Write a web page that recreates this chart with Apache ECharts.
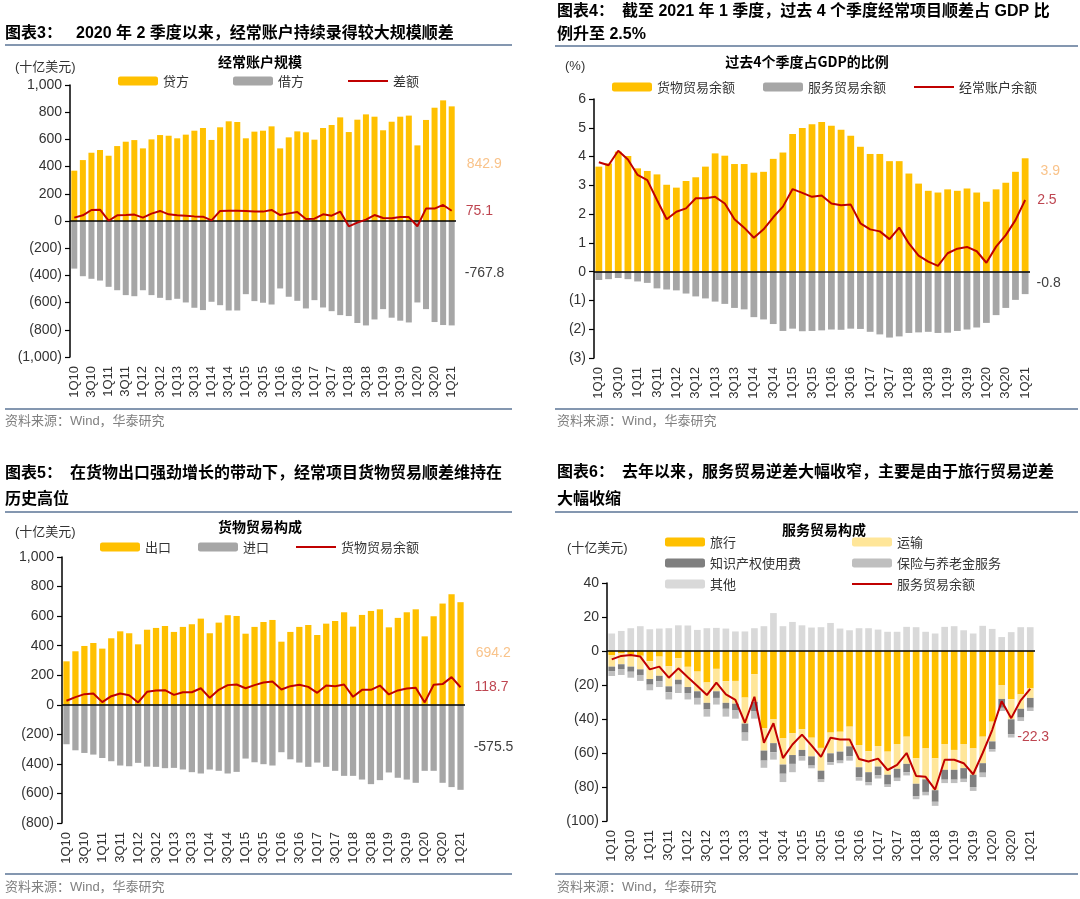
<!DOCTYPE html>
<html><head><meta charset="utf-8">
<script src="https://cdn.jsdelivr.net/npm/echarts@6/dist/echarts.min.js"></script>
<style>html,body{margin:0;padding:0;background:#fff}#c{width:1080px;height:899px}</style>
</head><body><div id="c"></div>
<script>
// ---------- data ----------
const cats = ['1Q10','2Q10','3Q10','4Q10','1Q11','2Q11','3Q11','4Q11','1Q12','2Q12','3Q12','4Q12','1Q13','2Q13','3Q13','4Q13','1Q14','2Q14','3Q14','4Q14','1Q15','2Q15','3Q15','4Q15','1Q16','2Q16','3Q16','4Q16','1Q17','2Q17','3Q17','4Q17','1Q18','2Q18','3Q18','4Q18','1Q19','2Q19','3Q19','4Q19','1Q20','2Q20','3Q20','4Q20','1Q21'];

// Panel 1: current account (USD bn)
const credit = [370,448,502,522,480,551,583,595,534,600,632,627,608,635,664,684,596,689,733,728,608,657,664,696,534,615,659,652,598,684,706,762,654,745,784,767,667,730,767,775,556,743,833,887,842.9];
const debit = [-350,-406,-425,-438,-484,-509,-545,-553,-509,-545,-565,-582,-572,-599,-638,-655,-594,-619,-658,-658,-538,-589,-601,-614,-496,-557,-587,-643,-582,-636,-663,-692,-699,-750,-768,-724,-648,-711,-733,-746,-599,-648,-743,-765,-767.8];
const caBalance = [25,42,81,83,2,42,44,47,25,54,74,49,42,39,34,32,5,74,76,76,74,69,69,81,44,56,66,15,17,49,39,69,-39,-12,10,44,22,20,29,29,-39,91,91,118,75.1];

// Panel 2: 4Q rolling, % of GDP
const goodsPct = [3.65,3.76,4.17,4.02,3.59,3.50,3.38,3.02,2.92,3.15,3.28,3.65,4.11,4.03,3.74,3.74,3.44,3.47,3.92,4.14,4.78,4.99,5.12,5.20,5.07,4.93,4.72,4.34,4.09,4.09,3.84,3.84,3.41,3.06,2.81,2.75,2.86,2.81,2.89,2.75,2.43,2.86,3.09,3.47,3.94];
const servicesPct = [-0.29,-0.26,-0.22,-0.26,-0.34,-0.39,-0.58,-0.62,-0.65,-0.76,-0.86,-0.93,-1.04,-1.12,-1.26,-1.31,-1.58,-1.66,-1.82,-2.06,-1.98,-2.07,-2.06,-2.04,-2.01,-2.02,-1.98,-1.99,-2.09,-2.18,-2.29,-2.25,-2.13,-2.11,-2.09,-2.13,-2.12,-2.06,-2.01,-1.94,-1.78,-1.51,-1.26,-0.98,-0.78];
const caPct = [3.80,3.70,4.20,3.90,3.36,3.18,2.49,1.82,2.08,2.20,2.55,2.55,2.60,2.37,1.82,1.53,1.18,1.47,1.89,2.26,2.87,2.74,2.60,2.65,2.37,2.31,2.33,1.68,1.47,1.40,1.13,1.53,0.98,0.56,0.35,0.20,0.64,0.80,0.86,0.71,0.31,0.87,1.27,1.79,2.49];

// Panel 3: goods trade (USD bn)
const exportsG = [294,362,398,418,380,450,497,484,409,508,520,533,493,527,545,583,484,556,606,601,481,527,560,574,427,493,527,540,472,549,567,626,529,608,635,646,524,588,626,646,463,599,685,748,694.2];
const importsG = [-267,-308,-326,-337,-360,-382,-411,-416,-393,-418,-420,-429,-427,-438,-456,-465,-438,-447,-465,-454,-364,-389,-402,-411,-321,-369,-391,-420,-391,-420,-447,-481,-481,-506,-537,-510,-458,-494,-506,-528,-447,-447,-528,-557,-575.5];
const goodsBal = [27,52,72,76,18,58,76,65,16,88,97,99,67,85,85,112,47,101,133,137,112,133,151,157,103,126,135,121,81,130,126,137,54,101,101,130,70,97,110,115,16,135,140,187,118.7];

// Panel 4: services trade (USD bn)
const travel = [-2.4,-1.4,-2.0,-2.8,-6.0,-3.3,-9.0,-4.3,-9.3,-12.1,-18.5,-10.5,-17.7,-17.6,-27.4,-13.6,-45.5,-40.2,-51.4,-48.4,-46.0,-51.0,-57.0,-48.0,-47.5,-44.5,-55.3,-59.0,-55.9,-59.2,-54.7,-50.4,-63.1,-57.3,-63.1,-54.7,-58.2,-54.7,-57.3,-50.4,-41.6,-20.0,-28.4,-25.5,-22.0];
const transport = [-6.8,-6.4,-7.2,-8.0,-10.5,-11.3,-11.8,-12.6,-11.9,-11.6,-12.0,-13.2,-12.8,-13.4,-15.3,-16.3,-13.1,-14.0,-15.4,-12.8,-12.2,-11.0,-13.4,-12.2,-11.7,-11.6,-13.1,-12.3,-12.1,-13.6,-14.6,-16.0,-15.0,-18.2,-18.8,-15.2,-11.7,-14.2,-15.5,-15.6,-11.6,-8.2,-11.8,-8.5,-5.6];
const ipFees = [-2.6,-2.8,-3.0,-3.3,-3.3,-3.3,-3.5,-2.9,-3.5,-3.9,-3.9,-3.9,-3.5,-4.0,-5.3,-5.4,-5.9,-5.4,-5.4,-5.2,-3.8,-5.4,-5.2,-5.2,-5.3,-5.9,-5.8,-5.8,-5.2,-5.8,-5.3,-4.9,-7.3,-7.4,-6.8,-5.8,-5.8,-6.3,-7.2,-5.6,-4.5,-5.2,-8.7,-5.2,-5.8];
const insurance = [-2.9,-3.5,-3.5,-3.5,-3.3,-3.3,-4.2,-4.9,-3.8,-3.9,-4.2,-3.9,-4.6,-4.8,-4.8,-4.5,-4.2,-4.3,-4.9,-4.9,-2.5,-1.6,-1.5,-1.6,-1.5,-2.5,-2.1,-1.9,-1.8,-1.4,-1.9,-1.9,-1.8,-2.0,-2.4,-2.0,-2.0,-1.9,-2.3,-2.6,-1.5,-1.9,-2.0,-2.0,-1.9];
const others = [10.3,11.8,13.4,14.6,12.8,13.2,13.4,15.1,15.0,12.4,13.4,13.6,13.2,11.5,11.5,13.4,14.6,22.3,14.6,17.1,15.1,13.8,14.0,16.5,13.2,12.2,13.4,13.4,12.6,11.3,11.3,14.2,14.0,11.3,10.3,14.2,14.6,12.2,10.3,14.8,13.0,8.2,11.1,14.0,14.0];
const svcBal = [-4.9,-2.9,-2.4,-3.3,-10.8,-9.2,-15.7,-10.2,-15.5,-20.6,-25.9,-18.6,-25.5,-28.8,-42.2,-26.9,-54.0,-42.5,-63.0,-55.0,-49.2,-55.5,-62.3,-51.0,-52.0,-52.0,-63.5,-65.0,-63.3,-70.0,-67.0,-60.0,-73.5,-74.0,-81.5,-64.0,-64.0,-66.0,-72.5,-60.0,-46.5,-29.5,-39.5,-29.0,-22.3];

// ---------- styling ----------
const GOLD = '#FFC000', GRAY = '#A6A6A6', RED = '#C00000';
const LBL_GOLD = '#F9C38A', LBL_RED = '#BE4550', LBL_DARK = '#404040';
const NUM_FONT = 'Liberation Sans';
const CJK = "'Noto Sans CJK SC'";
const RULE = '#8497B0';
const LINE_ICON = 'path://M0,0L40,0L40,0Z M0,3.6L40,3.6L40,5.6L0,5.6Z M0,9L40,9L40,9Z';

function fmtNum(v) {
  const a = Math.abs(v);
  const s = String(Math.round(a * 100) / 100).replace(/\B(?=(\d{3})+(?!\d))/g, ',');
  return v < 0 ? '(' + s + ')' : s;
}
const fmt1 = p => Number(Array.isArray(p.value) ? p.value[1] : p.value).toFixed(1);
function endLabel(arr, opt) {
  return arr.map((v, i) => i === arr.length - 1 ? {
    value: v,
    label: Object.assign({ show: true, fontSize: 14, fontFamily: NUM_FONT, formatter: fmt1 }, opt)
  } : v);
}
const zeroLine = {
  silent: true, symbol: ['none', 'none'], label: { show: false },
  lineStyle: { color: '#000', width: 1.5, type: 'solid' },
  data: [{ yAxis: 0 }]
};
function barS(name, data, idx, color, extra) {
  return Object.assign({ type: 'bar', name, data, xAxisIndex: idx, yAxisIndex: idx,
    itemStyle: { color }, barWidth: '70%', barGap: '-100%' }, extra || {});
}
function lineS(name, data, idx, lbl) {
  return { type: 'line', name, data, xAxisIndex: idx, yAxisIndex: idx, symbol: 'none',
    lineStyle: { color: RED, width: 2 }, itemStyle: { color: RED }, z: 5,
    endLabel: Object.assign({ show: true, fontSize: 14, fontFamily: NUM_FONT, color: LBL_RED,
      formatter: fmt1 }, lbl) };
}
function T(text, x, y, font, fill, align) {
  return { type: 'text', silent: true, style: { text, x, y, font, fill: fill || '#000',
    align: align || 'left', verticalAlign: 'middle' } };
}
function L(x1, y1, x2, y2) {
  return { type: 'line', silent: true, shape: { x1, y1, x2, y2 }, style: { stroke: RULE, lineWidth: 2 } };
}
const HFONT = "bold 16px 'Liberation Sans','Noto Sans CJK SC'";
const CTFONT = "bold 14px 'Noto Sans CJK SC'";
const UFONT = "13px 'Liberation Sans','Noto Sans CJK SC'";
const SFONT = "13px 'Liberation Sans','Noto Sans CJK SC'";
const SRC = '资料来源：Wind，华泰研究';

const grids = [
  { left: 70, top: 85, width: 386, height: 272 },
  { left: 594, top: 99, width: 436, height: 259 },
  { left: 62, top: 557, width: 403, height: 266 },
  { left: 607, top: 583, width: 428, height: 238 }
];
const yRanges = [[-1000, 1000, 200], [-3, 6, 1], [-800, 1000, 200], [-100, 40, 20]];

const legendText = { fontSize: 13, color: '#333', fontFamily: CJK, lineHeight: 14 };
function legend(data, left, top, gap, orient) {
  return { data, left, top, orient: orient || 'horizontal', itemGap: gap, itemWidth: 40, itemHeight: 9,
    padding: 0, textStyle: legendText, formatter: n => n.trim(), selectedMode: false };
}
const li = name => ({ name, icon: LINE_ICON });

const option = {
  animation: false,
  backgroundColor: '#fff',
  grid: grids,
  xAxis: grids.map((g, i) => ({
    type: 'category', gridIndex: i, data: cats,
    axisLine: { show: false }, axisTick: { show: false },
    axisLabel: { interval: 1, rotate: 90, fontSize: 13, color: '#333', fontFamily: NUM_FONT, margin: 9 }
  })),
  yAxis: yRanges.map((r, i) => ({
    type: 'value', gridIndex: i, min: r[0], max: r[1], interval: r[2],
    axisLine: { show: true, lineStyle: { color: '#000', width: 1.5 } },
    axisTick: { show: true, length: 5, lineStyle: { color: '#000', width: 1.2 } },
    splitLine: { show: false },
    axisLabel: { fontSize: 14, color: '#333', fontFamily: NUM_FONT, margin: 8, formatter: fmtNum }
  })),
  legend: [
    legend(['贷方', '借方', li('差额')], 118, 74, 44),
    legend(['货物贸易余额', '服务贸易余额', li('经常账户余额')], 612, 80, 28),
    legend(['出口', '进口', li('货物贸易余额 ')], 100, 540, 27),
    legend(['旅行', '知识产权使用费', '其他'], 665, 535, 7, 'vertical'),
    legend(['运输', '保险与养老金服务', li('服务贸易余额 ')], 852, 535, 7, 'vertical')
  ],
  series: [
    barS('贷方', endLabel(credit, { position: 'right', distance: 12, color: LBL_GOLD }), 0, GOLD, { markLine: zeroLine }),
    barS('借方', endLabel(debit, { position: 'right', distance: 10, color: LBL_DARK }), 0, GRAY),
    lineS('差额', caBalance, 0, { distance: 14 }),

    barS('货物贸易余额', endLabel(goodsPct, { position: 'right', distance: 12, offset: [0, -44], color: LBL_GOLD }), 1, GOLD, { markLine: zeroLine }),
    barS('服务贸易余额', endLabel(servicesPct, { position: 'right', distance: 8, color: LBL_DARK }), 1, GRAY),
    lineS('经常账户余额', caPct, 1, { distance: 12 }),

    barS('出口', endLabel(exportsG, { position: 'right', distance: 12, color: LBL_GOLD }), 2, GOLD, { markLine: zeroLine }),
    barS('进口', endLabel(importsG, { position: 'right', distance: 10, color: LBL_DARK }), 2, GRAY),
    lineS('货物贸易余额 ', goodsBal, 2, { distance: 14 }),

    barS('旅行', travel, 3, GOLD, { stack: 's', markLine: zeroLine }),
    barS('运输', transport, 3, '#FFE699', { stack: 's' }),
    barS('知识产权使用费', ipFees, 3, '#7F7F7F', { stack: 's' }),
    barS('保险与养老金服务', insurance, 3, '#BFBFBF', { stack: 's' }),
    barS('其他', others, 3, '#D9D9D9', { stack: 's' }),
    lineS('服务贸易余额 ', svcBal, 3, { distance: 5, offset: [-18, 48] })
  ],
  graphic: [
    // headers
    T('图表3：', 5, 34, HFONT), T('2020 年 2 季度以来，经常账户持续录得较大规模顺差', 76, 34, HFONT),
    T('图表4：', 557, 12, HFONT), T('截至 2021 年 1 季度，过去 4 个季度经常项目顺差占 GDP 比', 622, 12, HFONT),
    T('例升至 2.5%', 557, 35, HFONT),
    T('图表5：', 5, 474, HFONT), T('在货物出口强劲增长的带动下，经常项目货物贸易顺差维持在', 70, 474, HFONT),
    T('历史高位', 5, 500, HFONT),
    T('图表6：', 557, 473, HFONT), T('去年以来，服务贸易逆差大幅收窄，主要是由于旅行贸易逆差', 622, 473, HFONT),
    T('大幅收缩', 557, 500, HFONT),
    L(5, 45, 512, 45), L(555, 46, 1078, 46), L(5, 512, 512, 512), L(555, 512, 1078, 512),
    L(5, 409, 512, 409), L(555, 409, 1078, 409), L(5, 874, 512, 874), L(555, 874, 1078, 874),
    // chart titles
    T('经常账户规模', 260, 62, CTFONT, '#000', 'center'),
    T('过去4个季度占GDP的比例', 807, 62, CTFONT, '#000', 'center'),
    T('货物贸易构成', 260, 527, CTFONT, '#000', 'center'),
    T('服务贸易构成', 824, 530, CTFONT, '#000', 'center'),
    // units
    T('(十亿美元)', 15, 67, UFONT, '#333'), T('(%)', 565, 66, UFONT, '#333'),
    T('(十亿美元)', 15, 532, UFONT, '#333'), T('(十亿美元)', 567, 548, UFONT, '#333'),
    // sources
    T(SRC, 5, 421, SFONT, '#7F7F7F'), T(SRC, 557, 421, SFONT, '#7F7F7F'),
    T(SRC, 5, 887, SFONT, '#7F7F7F'), T(SRC, 557, 887, SFONT, '#7F7F7F')
  ]
};
echarts.init(document.getElementById('c'), null, { renderer: 'canvas' }).setOption(option);
</script></body></html>
